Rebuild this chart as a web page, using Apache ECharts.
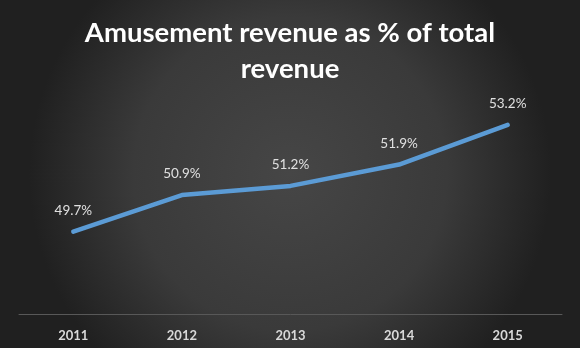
<!DOCTYPE html>
<html>
<head>
<meta charset="utf-8">
<script src="https://cdn.jsdelivr.net/npm/echarts@6/dist/echarts.min.js"></script>
<style>html,body{margin:0;padding:0;}#c{width:580px;height:348px;}</style>
</head>
<body>
<div id="c"></div>
<script>
var titleText = "Amusement revenue as % of total\nrevenue";
var categories = ["2011", "2012", "2013", "2014", "2015"];
var values = [49.7, 50.9, 51.2, 51.9, 53.2];

var chart = echarts.init(document.getElementById('c'), null, {renderer: 'canvas'});
chart.setOption({
  backgroundColor: {
    type: 'radial', x: 0.5, y: 0.5, r: 0.75,
    colorStops: [{offset: 0, color: '#464646'}, {offset: 0.6, color: '#3a3a3a'}, {offset: 1, color: '#202020'}]
  },
  animation: false,
  title: {
    text: titleText,
    left: 'center',
    top: 10,
    textStyle: {color: '#ffffff', fontFamily: 'Lato', fontWeight: 'bold', fontSize: 27.5, lineHeight: 36}
  },
  grid: {left: 19, right: 18, top: 70, bottom: 34},
  xAxis: {
    type: 'category',
    data: categories,
    boundaryGap: true,
    axisLine: {lineStyle: {color: '#585858', width: 1}},
    axisTick: {show: false},
    axisLabel: {color: '#d9d9d9', fontFamily: 'Lato', fontWeight: 'bold', fontSize: 13, margin: 15}
  },
  yAxis: {
    type: 'value', min: 47, max: 55, show: false,
    splitLine: {show: false}
  },
  series: [{
    type: 'line',
    data: values,
    symbol: 'circle',
    symbolSize: 2,
    showSymbol: true,
    itemStyle: {color: '#5b9bd5', borderWidth: 0},
    lineStyle: {color: '#5b9bd5', width: 4.5, cap: 'round', join: 'round'},
    label: {
      show: true, position: 'top', distance: 13,
      color: '#e0e0e0', fontFamily: 'Lato', fontSize: 13.5,
      formatter: function (p) { return p.value.toFixed(1) + '%'; }
    }
  }]
});
</script>
</body>
</html>
